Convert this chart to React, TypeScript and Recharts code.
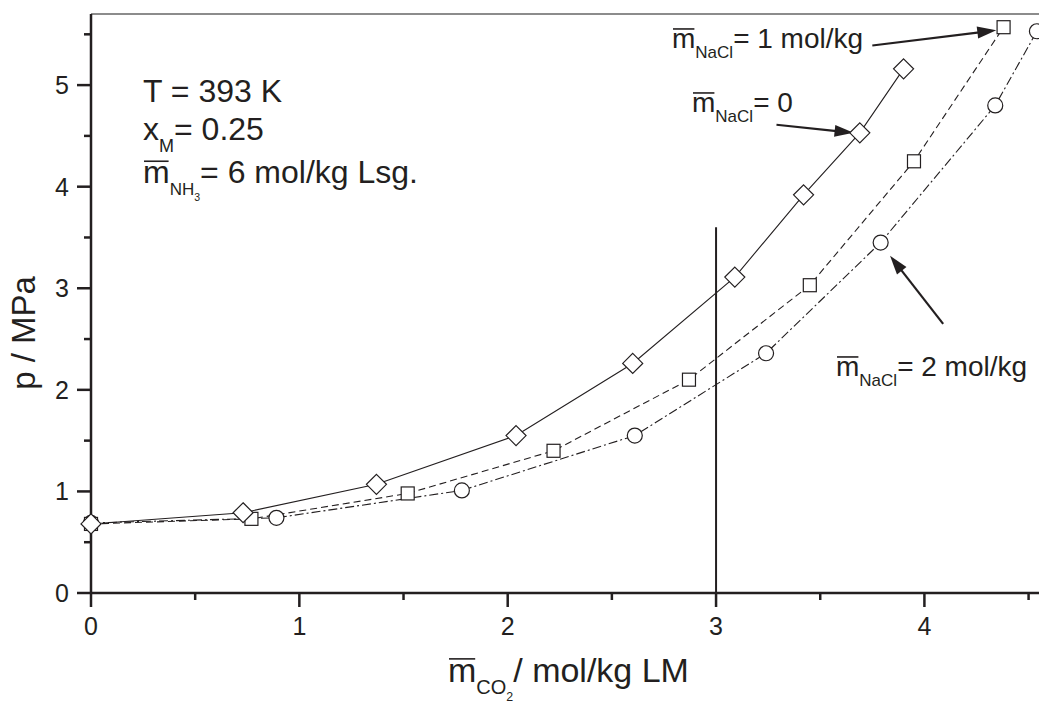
import React from 'react'
import { LineChart, Line, XAxis, YAxis, ReferenceLine, Customized } from 'recharts'

// NaCl = 0 (Rauten, durchgezogen)
const X_NACL0 = [0, 0.73, 1.37, 2.04, 2.6, 3.09, 3.42, 3.69, 3.9]
const P_NACL0 = [0.68, 0.79, 1.07, 1.55, 2.26, 3.11, 3.92, 4.53, 5.16]
// NaCl = 1 mol/kg (Quadrate, gestrichelt)
const X_NACL1 = [0, 0.77, 1.52, 2.22, 2.87, 3.45, 3.95, 4.38]
const P_NACL1 = [0.68, 0.73, 0.98, 1.4, 2.1, 3.03, 4.25, 5.57]
// NaCl = 2 mol/kg (Kreise, strichpunktiert)
const X_NACL2 = [0, 0.89, 1.78, 2.61, 3.24, 3.79, 4.34, 4.54]
const P_NACL2 = [0.69, 0.74, 1.01, 1.55, 2.36, 3.45, 4.8, 5.53]

const X_TICKS = [0, 0.5, 1, 1.5, 2, 2.5, 3, 3.5, 4, 4.5]
const Y_TICKS = [0, 0.5, 1, 1.5, 2, 2.5, 3, 3.5, 4, 4.5, 5, 5.5]
const X_DOMAIN = [0, 4.55]
const Y_DOMAIN = [0, 5.7]

// Pfeile: Start (x1, y1) -> Spitze (x2, y2)
const ARROW_X1 = [3.75, 3.29, 4.09]
const ARROW_Y1 = [5.39, 4.61, 2.65]
const ARROW_X2 = [4.345, 3.66, 3.835]
const ARROW_Y2 = [5.54, 4.53, 3.32]

// senkrechte Linie bei x = 3
const VLINE_X = 3
const VLINE_TOP = 3.6

const toPoints = (xs: number[], ys: number[]) => xs.map((x, i) => ({ x, p: ys[i] }))
const s0 = toPoints(X_NACL0, P_NACL0)
const s1 = toPoints(X_NACL1, P_NACL1)
const s2 = toPoints(X_NACL2, P_NACL2)
const arrows = ARROW_X1.map((x1, i) => ({ x1, y1: ARROW_Y1[i], x2: ARROW_X2[i], y2: ARROW_Y2[i] }))

const FONT = '"Liberation Sans", Arial, Helvetica, sans-serif'
const INK = '#231f20'

const Diamond = (props: any) => {
  const { cx, cy, index } = props
  const r = 10
  return <path key={`d${index}`} d={`M${cx},${cy - r}L${cx + r},${cy}L${cx},${cy + r}L${cx - r},${cy}Z`} fill="#fff" stroke={INK} strokeWidth={1.2} />
}
const Square = (props: any) => {
  const { cx, cy, index } = props
  const h = 6.5
  return <rect key={`s${index}`} x={cx - h} y={cy - h} width={2 * h} height={2 * h} fill="#fff" stroke={INK} strokeWidth={1.2} />
}
const Circle = (props: any) => {
  const { cx, cy, index } = props
  return <circle key={`c${index}`} cx={cx} cy={cy} r={7.5} fill="#fff" stroke={INK} strokeWidth={1.2} />
}

const XTick = (props: any) => {
  const { x, y, payload } = props
  const major = Number.isInteger(payload.value)
  return (
    <g>
      <line x1={x} y1={y} x2={x} y2={y + (major ? 14 : 7)} stroke={INK} strokeWidth={2.5} />
      {major && (
        <text x={x} y={y + 42} textAnchor="middle" fontSize={25} fontFamily={FONT} fill={INK}>{payload.value}</text>
      )}
    </g>
  )
}
const YTick = (props: any) => {
  const { x, y, payload } = props
  const major = Number.isInteger(payload.value)
  return (
    <g>
      <line x1={x} y1={y} x2={x - (major ? 14 : 7)} y2={y} stroke={INK} strokeWidth={2.5} />
      {major && (
        <text x={x - 22} y={y + 9} textAnchor="end" fontSize={25} fontFamily={FONT} fill={INK}>{payload.value}</text>
      )}
    </g>
  )
}

const Arrow = (props: any) => {
  const { x1, y1, x2, y2 } = props
  const dx = x2 - x1
  const dy = y2 - y1
  const len = Math.hypot(dx, dy) || 1
  const ux = dx / len
  const uy = dy / len
  const hl = 19
  const hw = 6
  const bx = x2 - ux * hl
  const by = y2 - uy * hl
  return (
    <g>
      <line x1={x1} y1={y1} x2={bx + ux * 2} y2={by + uy * 2} stroke={INK} strokeWidth={2.2} />
      <polygon points={`${x2},${y2} ${bx - uy * hw},${by + ux * hw} ${bx + uy * hw},${by - ux * hw}`} fill={INK} />
    </g>
  )
}

// m mit Querstrich, Index (und ggf. Unterindex), danach der Rest
type MBarProps = { x: number; y: number; size: number; sub: string; subSize: number; subSub?: string; rest: string }
const MBar = ({ x, y, size, sub, subSize, subSub, rest }: MBarProps) => (
  <g>
    <text fontSize={size}>
      <tspan x={x} y={y}>m</tspan>
      <tspan y={y + size * 0.36} fontSize={subSize}>{sub}</tspan>
      {subSub && <tspan y={y + size * 0.55} fontSize={subSize * 0.62}>{subSub}</tspan>}
      <tspan y={y}>{rest}</tspan>
    </text>
    <line x1={x + 1} x2={x + size * 0.8} y1={y - size * 0.68} y2={y - size * 0.68} stroke={INK} strokeWidth={1.6} />
  </g>
)

const Annotations = () => (
  <g fontFamily={FONT} fill={INK}>
    <text x={143} y={102} fontSize={32}>T = 393 K</text>
    <text fontSize={32}>
      <tspan x={143} y={140}>x</tspan>
      <tspan y={152} fontSize={18}>M</tspan>
      <tspan y={140}>= 0.25</tspan>
    </text>
    <MBar x={143} y={183} size={32} sub="NH" subSize={17} subSub="3" rest="= 6 mol/kg Lsg." />

    <MBar x={672} y={48} size={28} sub="NaCl" subSize={17} rest="= 1 mol/kg" />
    <MBar x={692} y={112} size={28} sub="NaCl" subSize={17} rest="= 0" />
    <MBar x={836} y={376} size={28} sub="NaCl" subSize={17} rest="= 2 mol/kg" />

    <text x={35} y={333} fontSize={33} textAnchor="middle" transform="rotate(-90, 35, 333)">p / MPa</text>
    <MBar x={448} y={682} size={34} sub="CO" subSize={20} subSub="2" rest="/ mol/kg LM" />
  </g>
)

export default function App() {
  return (
    <div style={{ position: 'absolute', left: 0, top: 0, width: 1039, height: 706, background: '#fff' }}>
      <LineChart width={1039} height={706} margin={{ top: 14, right: 0, bottom: 0, left: 0 }}>
        <XAxis
          type="number"
          dataKey="x"
          domain={X_DOMAIN}
          ticks={X_TICKS}
          interval={0}
          height={113}
          tickSize={0}
          tickMargin={0}
          tickLine={false}
          tick={<XTick />}
          axisLine={{ stroke: INK, strokeWidth: 2.5 }}
        />
        <YAxis
          type="number"
          dataKey="p"
          domain={Y_DOMAIN}
          ticks={Y_TICKS}
          interval={0}
          width={91}
          tickSize={0}
          tickMargin={0}
          tickLine={false}
          tick={<YTick />}
          axisLine={{ stroke: INK, strokeWidth: 2.5 }}
        />
        <ReferenceLine y={Y_DOMAIN[1]} stroke="#666" strokeWidth={1.5} />
        <ReferenceLine segment={[{ x: VLINE_X, y: 0 }, { x: VLINE_X, y: VLINE_TOP }]} stroke={INK} strokeWidth={2} />

        <Line data={s2} dataKey="p" stroke={INK} strokeWidth={1.1} strokeDasharray="9 3 2 3" dot={Circle} isAnimationActive={false} />
        <Line data={s1} dataKey="p" stroke={INK} strokeWidth={1.1} strokeDasharray="7 4" dot={Square} isAnimationActive={false} />
        <Line data={s0} dataKey="p" stroke={INK} strokeWidth={1.1} dot={Diamond} isAnimationActive={false} />

        {arrows.map((a, i) => (
          <ReferenceLine key={i} segment={[{ x: a.x1, y: a.y1 }, { x: a.x2, y: a.y2 }]} shape={Arrow} />
        ))}
        <Customized component={Annotations} />
      </LineChart>
    </div>
  )
}
